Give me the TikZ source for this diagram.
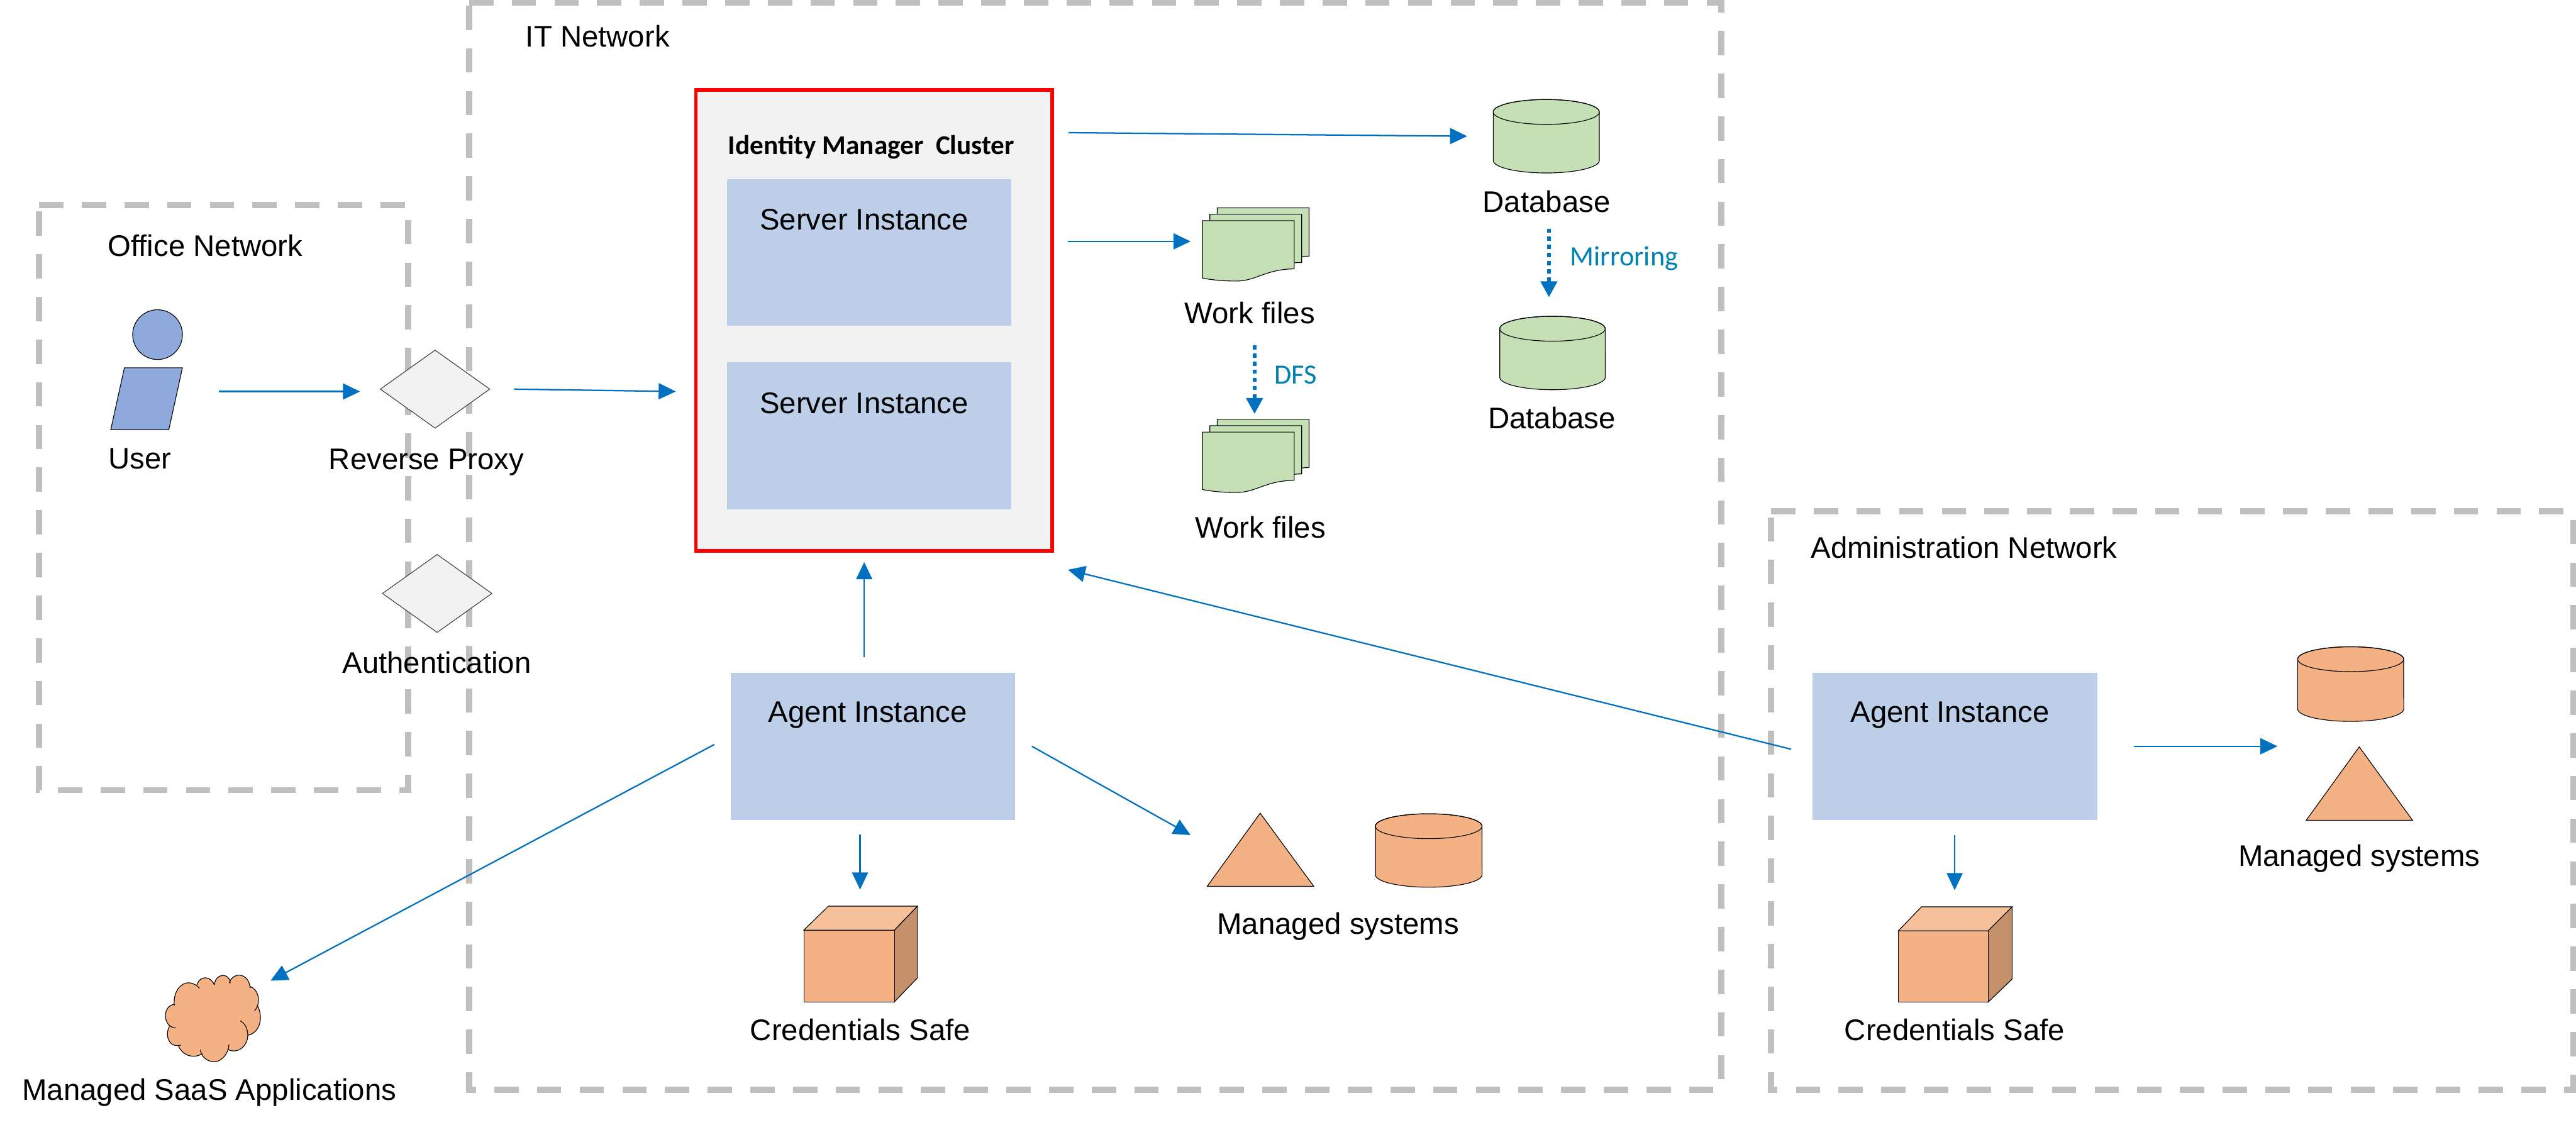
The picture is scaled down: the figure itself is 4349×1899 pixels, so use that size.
\documentclass[tikz,border=0pt]{standalone}
\usepackage{fontspec}
\setmainfont{Liberation Sans}
\newfontfamily\calib{Carlito}
\usetikzlibrary{arrows.meta,shapes.geometric}
\definecolor{netgrey}{HTML}{BFBFBF}
\definecolor{flowblue}{HTML}{0070C0}
\definecolor{instblue}{HTML}{BDCEE9}
\definecolor{userblue}{HTML}{8EA9DB}
\definecolor{panel}{HTML}{F2F2F2}
\definecolor{dbgreen}{HTML}{C5E0B4}
\definecolor{sysorange}{HTML}{F4B183}
\definecolor{cubetop}{HTML}{F6C09B}
\definecolor{cubeside}{HTML}{C49069}
\definecolor{tealtext}{HTML}{0082B4}
\tikzset{
  netline/.style={draw=netgrey,line width=.1cm,dash pattern=on .41cm off .31cm},
  lbl/.style={font=\fontsize{14.3}{17}\selectfont,inner sep=0,text=black},
  tealbl/.style={font=\calib\fontsize{13.4}{16}\selectfont,inner sep=0,text=tealtext},
  flow/.style={draw=flowblue,line width=.024cm,-{Triangle[length=.29cm,width=.27cm]}},
  flowdot/.style={draw=flowblue,line width=.07cm,dash pattern=on .07cm off .067cm,-{Triangle[length=.27cm,width=.27cm,sep=0pt]}},
  icon/.style={draw=black,line width=.012cm},
  inst/.style={fill=instblue,inner sep=0,minimum width=#1},
  anchorbox/.style={inner sep=0,minimum width=.1cm,minimum height=.1cm},
  dia/.style={diamond,draw=black!75,line width=.012cm,fill=panel,inner sep=0,aspect=1.4}
}
% name, cx, cy, w, h
\newcommand\cylicon[6][sysorange]{%
  \begin{scope}[shift={(#3,#4)}]
    \pgfmathsetmacro\ca{#5/2}\pgfmathsetmacro\cb{#6/2}\pgfmathsetmacro\cy{\cb-21}
    \pgfmathsetmacro\cax{#5/200}
    \draw[icon,fill=#1] (-\ca,-\cy) -- (-\ca,\cy)
      arc[start angle=180,end angle=360,x radius=\cax cm,y radius=.21cm]
      -- (\ca,-\cy) arc[start angle=0,end angle=180,x radius=\cax cm,y radius=.21cm] -- cycle;
    \draw[icon] (0,-\cy) ellipse [x radius=\cax cm,y radius=.21cm];
    \node[anchorbox] (#2) at (0,0) {};
  \end{scope}}
% x left, y top of a sheet
\newcommand\sheet[2]{%
  \draw[icon,fill=dbgreen,shift={(#1,#2)}] (0,0) -- (155,0) -- (155,81.5)
    .. controls (105,82) and (90,103) .. (55,102) .. controls (35,102) and (15,100) .. (0,97) -- cycle;}
\newcommand\docstack[3]{%
  \begin{scope}[shift={(#2,#3)}]
    \sheet{25}{-21.5}\sheet{12.5}{-10.8}\sheet{0}{0}
    \node[anchorbox] (#1) at (90,40) {};
  \end{scope}}
% fx1, fx2, fy1, fy2, backx (left of top), backtop, rightx, rightbottom
\newcommand\cubeicon[8]{%
  \draw[icon,fill=cubetop] (#1,#3) -- (#5,#6) -- (#7,#6) -- (#2,#3) -- cycle;
  \draw[icon,fill=cubeside] (#2,#3) -- (#7,#6) -- (#7,#8) -- (#2,#4) -- cycle;
  \draw[icon,fill=sysorange] (#1,#3) rectangle (#2,#4);
}
\def\cloudlobes{
  (103,205) .. controls (95,130) and (140,85) .. (178,88) .. controls (200,90) and (220,102) .. (230,116)
  (218,98) .. controls (232,52) and (285,50) .. (306,98)
  (307,98) .. controls (310,38) and (385,35) .. (387,90)
  (382,90) .. controls (395,35) and (480,30) .. (488,115)
  (488,107) .. controls (525,120) and (550,180) .. (510,232)
  (525,205) .. controls (555,260) and (540,340) .. (478,354)
  (438,282) .. controls (470,295) and (485,350) .. (470,385) .. controls (455,425) and (415,445) .. (378,428)
  (380,402) .. controls (378,450) and (340,490) .. (305,489) .. controls (270,488) and (240,465) .. (235,428)
  (245,447) .. controls (215,470) and (150,470) .. (122,405)
  (137,404) .. controls (100,415) and (70,395) .. (68,350) .. controls (68,335) and (72,320) .. (78,310)
  (110,315) .. controls (80,318) and (58,290) .. (58,255) .. controls (58,225) and (75,200) .. (105,197)
}
\begin{document}
\begin{tikzpicture}[x=.01cm,y=-.01cm]
\useasboundingbox (0,0) rectangle (4349,1899);
\fill[white] (0,0) rectangle (4349,1899);

% network zones
\draw[netline] (66,346) -- (689,346) -- (689,1334) -- (66,1334) -- cycle;
\draw[netline] (792,5) -- (2906,5) -- (2906,1840) -- (792,1840) -- cycle;
\draw[netline] (2990,863) -- (4344,863) -- (4344,1840) -- (2990,1840) -- cycle;
\node[lbl] (officeL) at (346.5,415) {Office Network};
\node[lbl] (itL) at (1009,61) {IT Network};
\node[lbl] (adminL) at (3316,924) {Administration Network};

% user
\node[circle,icon,fill=userblue,minimum size=.84cm,inner sep=0] (head) at (266,565) {};
\draw[icon,fill=userblue] (210,621) -- (308,621) -- (285,725.5) -- (187,725.5) -- cycle;
\node[anchorbox] (user) at (248,623) {};
\node[lbl] (userL) at (236,775) {User};

% gateways
\node[dia,minimum width=1.85cm,minimum height=1.32cm] (proxy) at (734.5,657) {};
\node[lbl] (proxyL) at (720,780) {Reverse Proxy};
\node[dia,minimum width=1.85cm,minimum height=1.32cm] (auth) at (738,1002) {};
\node[lbl] (authL) at (737.5,1119) {Authentication};

% cluster
\node[fill=panel,draw=red,line width=.06cm,inner sep=0,minimum width=6.01cm,minimum height=7.78cm] (cluster) at (1475.5,541) {};
\node[font=\calib\bfseries\fontsize{13.05}{15}\selectfont,inner sep=0] (clusterL) at (1471,248) {Identity Manager\ \ Cluster};
\node[inst=4.8cm,minimum height=2.47cm] (srvA) at (1467,426.5) {};
\node[lbl] (srvAL) at (1459,371) {Server Instance};
\node[inst=4.8cm,minimum height=2.48cm] (srvB) at (1467,736) {};
\node[lbl] (srvBL) at (1459,681) {Server Instance};

% data
\cylicon[dbgreen]{dbA}{2610.5}{230}{179}{124}
\node[lbl] (dbAL) at (2611,340) {Database};
\cylicon[dbgreen]{dbB}{2621}{596}{178}{124}
\node[lbl] (dbBL) at (2620,706) {Database};
\node[tealbl] (mirL) at (2742,436) {Mirroring};
\docstack{workA}{2030}{372.5}
\node[lbl] (workAL) at (2110,528) {Work files};
\docstack{workB}{2030}{729.5}
\node[lbl] (workBL) at (2128,890) {Work files};
\node[tealbl] (dfsL) at (2187,633) {DFS};

% IT agent
\node[inst=4.8cm,minimum height=2.48cm] (agentIT) at (1474,1260) {};
\node[lbl] (agentITL) at (1465,1207) {Agent Instance};
\draw[icon,fill=sysorange] (2127.5,1373) -- (2218,1496.5) -- (2038,1496.5) -- cycle;
\node[anchorbox] (triIT) at (2128,1435) {};
\cylicon{cylIT}{2412}{1436}{180}{124}
\node[lbl] (manITL) at (2259,1564) {Managed systems};
\cubeicon{1357}{1510}{1570.5}{1691.5}{1398.5}{1530}{1549}{1651}
\node[anchorbox] (safeIT) at (1453,1611) {};
\node[lbl] (safeITL) at (1452.5,1738.5) {Credentials Safe};

% admin agent
\node[inst=4.81cm,minimum height=2.48cm] (agentAdm) at (3300.25,1260) {};
\node[lbl] (agentAdmL) at (3292,1207) {Agent Instance};
\cylicon{cylAdm}{3968.5}{1155}{179}{126}
\draw[icon,fill=sysorange] (3983,1261) -- (4073,1385) -- (3893.5,1385) -- cycle;
\node[anchorbox] (triAdm) at (3983,1323) {};
\node[lbl] (manAdmL) at (3983,1450) {Managed systems};
\cubeicon{3205}{3356.5}{1571.5}{1692}{3244}{1531}{3397}{1653}
\node[anchorbox] (safeAdm) at (3301,1611.5) {};
\node[lbl] (safeAdmL) at (3300,1739) {Credentials Safe};

% SaaS cloud
\begin{scope}[shift={(260,1630)},x=.003333cm,y=-.003333cm]
  \fill[sysorange] \cloudlobes;
  \fill[sysorange] (103,205) -- (178,92) -- (218,98) -- (307,90) -- (387,85) -- (488,110) -- (515,220) -- (520,270) -- (478,354) -- (470,385) -- (380,428) -- (305,480) -- (240,450) -- (122,405) -- (78,350) -- (78,310) -- (70,250) -- cycle;
  \draw[icon] \cloudlobes;
  \node[anchorbox] (saas) at (300,270) {};
\end{scope}
\node[lbl] (saasL) at (353.5,1845) {Managed SaaS Applications};

% connectors
\draw[flow] ([shift={(122,38)}]user.center) -- ([shift={(-126.5,4)}]proxy.center);
\draw[flow] ([shift={(133.5,0)}]proxy.center) -- ([shift={(-334.5,120)}]cluster.center);
\draw[flow] ([shift={(328.5,-317)}]cluster.center) -- ([shift={(-133.5,0)}]dbA.center);
\draw[flow] ([shift={(327.5,-133.5)}]cluster.center) -- ([shift={(-110,-5)}]workA.center);
\draw[flowdot] ([shift={(4.5,156)}]dbA.center) -- ([shift={(-6,-94)}]dbB.center);
\draw[flowdot] ([shift={(-2,170.5)}]workA.center) -- ([shift={(-2,-70.5)}]workB.center);
\draw[flow] ([shift={(-15,-150)}]agentIT.center) -- ([shift={(-16.5,408)}]cluster.center);
\draw[flow] ([shift={(-276.25,5)}]agentAdm.center) -- ([shift={(327.5,421)}]cluster.center);
\draw[flow] ([shift={(-268,-3)}]agentIT.center) -- ([shift={(97,-64)}]saas.center);
\draw[flow] ([shift={(268,0)}]agentIT.center) -- ([shift={(-118,-25)}]triIT.center);
\draw[flow] ([shift={(-22,149)}]agentIT.center) -- ([shift={(-1,-109)}]safeIT.center);
\draw[flow] ([shift={(301.75,0)}]agentAdm.center) -- ([shift={(-138,-63)}]triAdm.center);
\draw[flow] ([shift={(-.25,150)}]agentAdm.center) -- ([shift={(-1,-108.5)}]safeAdm.center);
\end{tikzpicture}
\end{document}
